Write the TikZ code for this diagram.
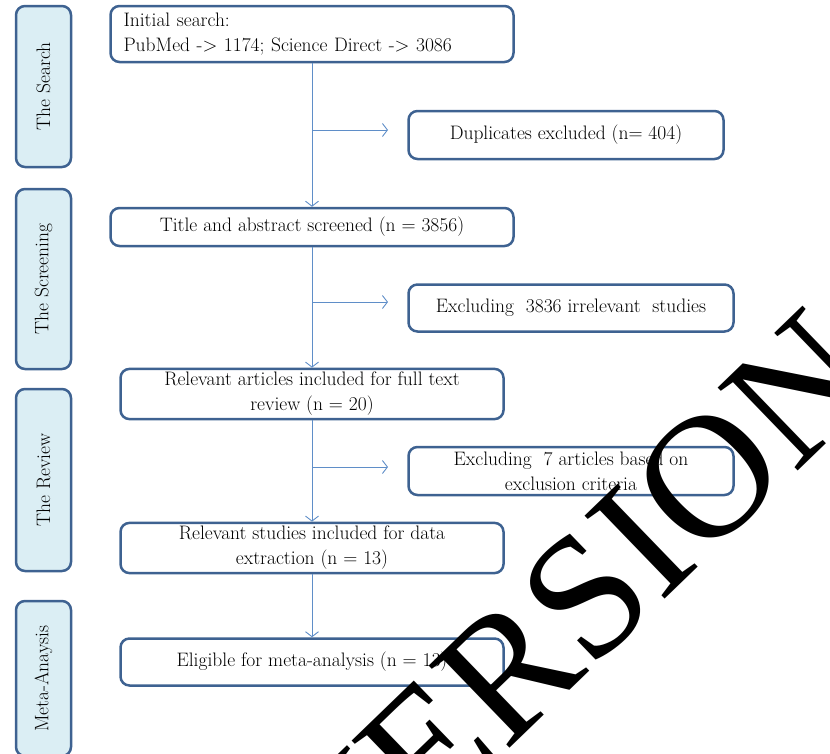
\documentclass[tikz,border=0pt]{standalone}
\usepackage{fontspec}
\newfontfamily\markfont{Liberation Serif}
\usetikzlibrary{arrows.meta}

\definecolor{boxedge}{RGB}{62,98,145}
\definecolor{stagefill}{RGB}{219,238,244}
\definecolor{arrowblue}{RGB}{95,142,200}

\begin{document}
\begin{tikzpicture}[x=1pt, y=-1pt,
    every node/.style={font=\fontsize{19.5}{25}\selectfont},
    stage_box/.style={draw=boxedge, fill=stagefill, line width=2.5pt, rounded corners=9pt, rotate=90, minimum height=55pt},
    flow_box/.style={draw=boxedge, line width=2.5pt, rounded corners=9pt, align=center},
    flow_arrow/.style={draw=arrowblue, line width=0.9pt, -{Straight Barb[length=5pt,width=13pt]}}]
    \clip (0, 0) rectangle (830, 753);

    % stages on the left
    \node[stage_box, minimum width=161pt] (stage_search) at (43.5, 86.5) {The Search};
    \node[stage_box, minimum width=180pt] (stage_screen) at (43.5, 279) {The Screening};
    \node[stage_box, minimum width=182pt] (stage_review) at (43.5, 480) {The Review};
    \node[stage_box, minimum width=155pt] (stage_meta) at (43.5, 678.5) {Meta-Anaysis};

    % main flow
    \node[flow_box, minimum width=403pt, minimum height=56pt, text width=377pt, inner xsep=13pt, align=left] (box_init) at (312, 34)
        {Initial search:\\PubMed -> 1174; Science Direct -> 3086};
    \node[flow_box, minimum width=403pt, minimum height=38pt] (box_title) at (312, 227) {Title and abstract screened (n = 3856)};
    \node[flow_box, minimum width=383pt, minimum height=47pt] (box_full) at (312, 394) {Relevant articles included for full text\\review (n = 20)};
    \node[flow_box, minimum width=383pt, minimum height=49pt] (box_data) at (312, 548) {Relevant studies included for data\\extraction (n = 13)};
    \node[flow_box, minimum width=383pt, minimum height=47pt] (box_meta) at (312, 662) {Eligible for meta-analysis (n = 13)};

    % excluded records
    \node[flow_box, minimum width=315pt, minimum height=48pt] (box_dup) at (566, 135) {Duplicates excluded (n= 404)};
    \node[flow_box, minimum width=325pt, minimum height=47pt] (box_irrel) at (571, 308) {Excluding\ \ 3836 irrelevant\ \ studies};
    \node[flow_box, minimum width=325pt, minimum height=48pt] (box_crit) at (571, 471) {Excluding\ \ 7 articles based on\\exclusion criteria};

    \coordinate (tip_dup) at (388, 130);
    \coordinate (tip_irrel) at (388, 302);
    \coordinate (tip_crit) at (388, 467);

    \draw[flow_arrow] (box_init.south) -- (box_title.north);
    \draw[flow_arrow] (box_title.south) -- (box_full.north);
    \draw[flow_arrow] (box_full.south) -- (box_data.north);
    \draw[flow_arrow] (box_data.south) -- (box_meta.north);

    \draw[flow_arrow] (box_init.south |- tip_dup) -- (tip_dup);
    \draw[flow_arrow] (box_title.south |- tip_irrel) -- (tip_irrel);
    \draw[flow_arrow] (box_full.south |- tip_crit) -- (tip_crit);

    % watermark
    \node[font=\markfont\fontsize{176}{176}\selectfont, rotate=44, inner sep=0pt] (mark_text) at (572, 610) {VERSION};
\end{tikzpicture}
\end{document}
